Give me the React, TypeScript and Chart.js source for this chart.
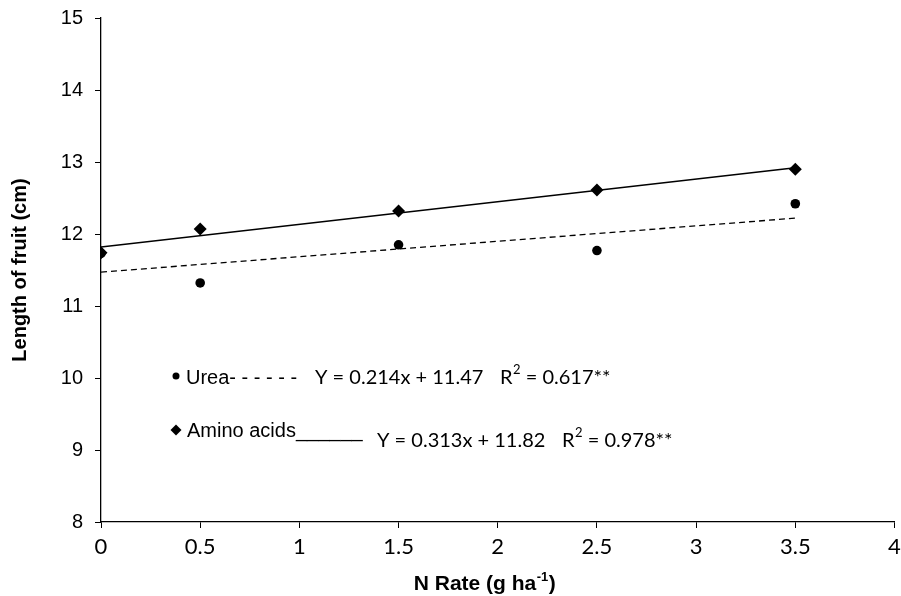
import React, { useEffect, useRef } from 'react';
import { Chart, registerables } from 'chart.js';

Chart.register(...registerables);

const nRates = [0, 0.5, 1.5, 2.5, 3.5];
const ureaLength = [11.73, 11.32, 11.85, 11.77, 12.42];
const aminoLength = [11.74, 12.07, 12.32, 12.61, 12.9];
const fitX = [0, 3.5];
const ureaFit = [11.47, 12.22];
const aminoFit = [11.82, 12.92];
const xTickValues = [0, 0.5, 1, 1.5, 2, 2.5, 3, 3.5, 4];
const xTickLabels = ['0', '0.5', '1', '1.5', '2', '2.5', '3', '3.5', '4'];
const yTickValues = [8, 9, 10, 11, 12, 13, 14, 15];
const yTickLabels = ['8', '9', '10', '11', '12', '13', '14', '15'];
const ureaName = 'Urea';
const aminoName = 'Amino acids';
const ureaEquation = 'Y = 0.214x + 11.47';
const ureaR2 = '0.617**';
const aminoEquation = 'Y = 0.313x + 11.82';
const aminoR2 = '0.978**';
const xTitle = 'N Rate (g ha';
const xTitleSup = '-1';
const yTitle = 'Length of fruit (cm)';

const ARIAL = '"Liberation Sans", Arial, sans-serif';
const CALIBRI = 'Lato, "Open Sans", sans-serif';

function drawR2(ctx: CanvasRenderingContext2D, x: number, y: number, value: string) {
  ctx.font = `20px ${CALIBRI}`;
  ctx.fillText('R', x, y);
  let cx = x + ctx.measureText('R').width;
  ctx.font = `13px ${CALIBRI}`;
  ctx.fillText('2', cx + 0.5, y - 8);
  cx += ctx.measureText('2').width + 0.5;
  ctx.font = `20px ${CALIBRI}`;
  ctx.fillText(' = ' + value, cx, y);
}

const annotationPlugin = {
  id: 'annotations',
  afterDraw(chart: any) {
    const ctx: CanvasRenderingContext2D = chart.ctx;
    const area = chart.chartArea;
    const L = area.left;
    ctx.save();
    ctx.fillStyle = '#000';
    ctx.textBaseline = 'middle';
    ctx.textAlign = 'left';

    // Urea row
    ctx.beginPath();
    ctx.arc(L + 75, 376, 3.5, 0, Math.PI * 2);
    ctx.fill();
    ctx.font = `20px ${ARIAL}`;
    ctx.fillText(ureaName + '- - - - - -', L + 85, 378);
    ctx.font = `20px ${CALIBRI}`;
    ctx.fillText(ureaEquation, L + 214, 378);
    drawR2(ctx, L + 399, 378, ureaR2);

    // Amino acids row
    ctx.beginPath();
    ctx.moveTo(L + 75, 430 - 5.5);
    ctx.lineTo(L + 80.5, 430);
    ctx.lineTo(L + 75, 430 + 5.5);
    ctx.lineTo(L + 69.5, 430);
    ctx.closePath();
    ctx.fill();
    ctx.font = `20px ${ARIAL}`;
    ctx.fillText(aminoName + '______', L + 86, 431);
    ctx.font = `20px ${CALIBRI}`;
    ctx.fillText(aminoEquation, L + 276, 441);
    drawR2(ctx, L + 461, 441, aminoR2);

    // X axis title with superscript
    ctx.font = `bold 21px ${ARIAL}`;
    const w1 = ctx.measureText(xTitle).width;
    ctx.font = `bold 13px ${ARIAL}`;
    const w2 = ctx.measureText(xTitleSup).width;
    ctx.font = `bold 21px ${ARIAL}`;
    const w3 = ctx.measureText(')').width;
    const total = w1 + w2 + w3 + 1;
    let x = (area.left + area.right) / 2 - total / 2 - 13;
    const base = 590;
    ctx.textBaseline = 'alphabetic';
    ctx.fillText(xTitle, x, base);
    x += w1;
    ctx.font = `bold 13px ${ARIAL}`;
    ctx.fillText(xTitleSup, x + 0.5, base - 9);
    x += w2 + 1;
    ctx.font = `bold 21px ${ARIAL}`;
    ctx.fillText(')', x, base);
    ctx.restore();
  },
};

export default function App() {
  const ref = useRef<HTMLCanvasElement>(null);
  useEffect(() => {
    const canvas = ref.current;
    if (!canvas) return;
    const chart = new Chart(canvas, {
      type: 'scatter',
      data: {
        datasets: [
          {
            label: aminoName + ' fit',
            data: fitX.map((x, i) => ({ x, y: aminoFit[i] })),
            showLine: true,
            borderColor: '#000',
            borderWidth: 1.5,
            pointRadius: 0,
            fill: false,
          },
          {
            label: ureaName + ' fit',
            data: fitX.map((x, i) => ({ x, y: ureaFit[i] })),
            showLine: true,
            borderColor: '#000',
            borderWidth: 1.3,
            borderDash: [6, 4],
            pointRadius: 0,
            fill: false,
          },
          {
            label: ureaName,
            data: nRates.map((x, i) => ({ x, y: ureaLength[i] })),
            pointStyle: 'circle',
            pointRadius: 4.8,
            backgroundColor: '#000',
            borderColor: '#000',
            borderWidth: 0,
          },
          {
            label: aminoName,
            data: nRates.map((x, i) => ({ x, y: aminoLength[i] })),
            pointStyle: 'rectRot',
            pointRadius: 6.5,
            backgroundColor: '#000',
            borderColor: '#000',
            borderWidth: 0,
          },
        ],
      },
      options: {
        responsive: false,
        animation: false,
        events: [],
        layout: { padding: { left: 0, right: 4, top: 18, bottom: 0 } },
        plugins: {
          legend: { display: false },
          tooltip: { enabled: false },
        },
        scales: {
          x: {
            type: 'linear',
            min: 0,
            max: 4,
            afterBuildTicks: (scale: any) => {
              scale.ticks = xTickValues.map((v) => ({ value: v }));
            },
            afterFit: (scale: any) => {
              scale.height = 74;
              scale.paddingLeft = 0;
              scale.paddingRight = 0;
            },
            ticks: {
              color: '#000',
              font: { family: CALIBRI, size: 22 },
              padding: 6,
              maxRotation: 0,
              autoSkip: false,
              callback: (v: any) => {
                const i = xTickValues.indexOf(Number(v));
                return i >= 0 ? xTickLabels[i] : '';
              },
            },
            grid: {
              display: true,
              drawOnChartArea: false,
              drawTicks: true,
              tickLength: 6,
              color: '#000',
              lineWidth: 1,
            },
            border: { display: true, color: '#000', width: 1.3 },
          },
          y: {
            type: 'linear',
            min: 8,
            max: 15,
            afterBuildTicks: (scale: any) => {
              scale.ticks = yTickValues.map((v) => ({ value: v }));
            },
            afterFit: (scale: any) => {
              scale.width = 101;
              scale.paddingTop = 0;
              scale.paddingBottom = 0;
            },
            ticks: {
              color: '#000',
              font: { family: ARIAL, size: 20 },
              padding: 12,
              autoSkip: false,
              callback: (v: any) => {
                const i = yTickValues.indexOf(Number(v));
                return i >= 0 ? yTickLabels[i] : '';
              },
            },
            title: {
              display: true,
              text: yTitle,
              color: '#000',
              font: { family: ARIAL, size: 20, weight: 'bold' },
              padding: { top: 8, bottom: 0 },
            },
            grid: {
              display: true,
              drawOnChartArea: false,
              drawTicks: true,
              tickLength: 6,
              color: '#000',
              lineWidth: 1,
            },
            border: { display: true, color: '#000', width: 1.3 },
          },
        },
      },
      plugins: [
        {
          id: 'whiteBg',
          beforeDraw(c: any) {
            const ctx = c.ctx;
            ctx.save();
            ctx.fillStyle = '#fff';
            ctx.fillRect(0, 0, c.width, c.height);
            ctx.restore();
          },
        },
        annotationPlugin,
      ],
    } as any);
    return () => chart.destroy();
  }, []);

  return (
    <div style={{ position: 'fixed', left: 0, top: 0, width: 901, height: 596, background: '#fff' }}>
      <canvas ref={ref} width={901} height={596} style={{ display: 'block', width: 901, height: 596 }} />
    </div>
  );
}
